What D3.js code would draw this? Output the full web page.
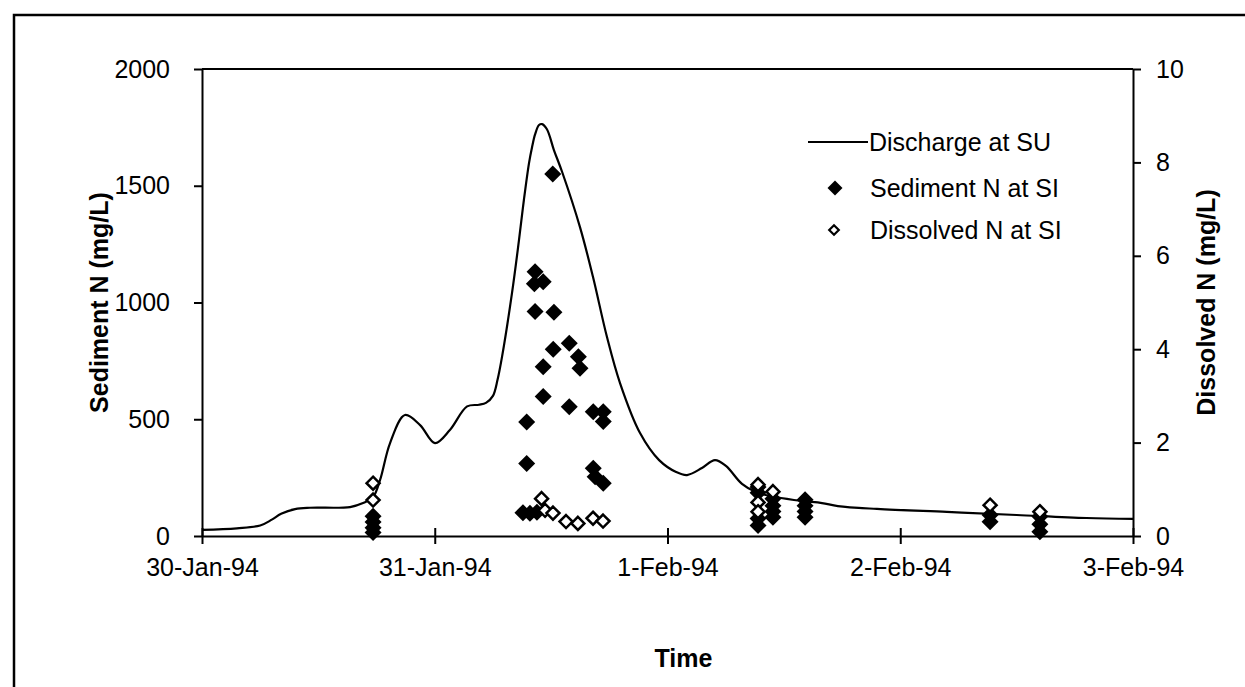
<!DOCTYPE html>
<html>
<head>
<meta charset="utf-8">
<script src="https://cdn.jsdelivr.net/npm/d3@7"></script>
<style>
  html, body { margin: 0; padding: 0; background: #fff; }
  svg { display: block; font-family: "Liberation Sans", Arial, sans-serif; }
</style>
</head>
<body>
<svg id="chart" width="1245" height="687"></svg>
<script>
// Time is given in days after 30-Jan-94 00:00.
const startDate = new Date(1994, 0, 30);
const dayTicks = [0, 1, 2, 3, 4];

// Discharge at SU (plotted against the left scale)
const dischargeDays = [0.000, 0.150, 0.250, 0.300, 0.340, 0.400, 0.464, 0.636, 0.692, 0.735,
  0.765, 0.808, 0.872, 0.937, 1.001, 1.065, 1.139, 1.190, 1.220, 1.250, 1.270, 1.289, 1.332,
  1.362, 1.383, 1.405, 1.418, 1.431, 1.448, 1.461, 1.482, 1.512, 1.547, 1.624, 1.680, 1.740,
  1.796, 1.882, 1.964, 2.037, 2.084, 2.148, 2.204, 2.251, 2.320, 2.380, 2.466, 2.578, 2.664,
  2.732, 2.900, 3.200, 3.500, 3.800, 4.000];
const dischargeValues = [26, 33, 45, 70, 95, 115, 121, 124, 141, 167,
  240, 398, 518, 475, 398, 454, 555, 562, 570, 600, 670, 767, 1041,
  1268, 1439, 1597, 1665, 1720, 1760, 1764, 1742, 1653, 1560, 1323, 1109, 852,
  655, 441, 325, 274, 261, 291, 325, 300, 223, 188, 167, 150, 141,
  128, 116, 103, 90, 77, 73];

// Sediment N at SI (mg/L, left scale)
const sedimentDays = [0.735, 0.735, 0.735, 0.735,
  1.379, 1.409, 1.439, 1.395, 1.395, 1.431, 1.428, 1.466, 1.431, 1.512, 1.507, 1.509,
  1.466, 1.466, 1.578, 1.617, 1.624, 1.578, 1.681, 1.724, 1.724, 1.681, 1.689, 1.724,
  2.389, 2.389, 2.389, 2.389, 2.453, 2.453, 2.453, 2.453, 2.591, 2.591, 2.591, 2.591,
  3.386, 3.386, 3.600, 3.600, 3.600];
const sedimentValues = [85, 60, 35, 15,
  100, 97, 102, 488, 310, 1132, 1080, 1089, 961, 958, 1550, 800,
  725, 597, 825, 768, 718, 554, 532, 532, 490, 290, 254, 226,
  210, 185, 75, 45, 160, 130, 105, 80, 155, 130, 105, 80,
  90, 61, 83, 50, 18];

// Dissolved N at SI (mg/L, right scale)
const dissolvedDays = [0.735, 0.735, 1.459, 1.474, 1.508, 1.564, 1.615, 1.680, 1.723,
  2.389, 2.389, 2.389, 2.453, 3.386, 3.600];
const dissolvedValues = [1.13, 0.77, 0.8, 0.55, 0.49, 0.31, 0.27, 0.38, 0.32,
  1.1, 0.72, 0.52, 0.95, 0.66, 0.52];

const leftTicks = [0, 500, 1000, 1500, 2000];
const rightTicks = [0, 2, 4, 6, 8, 10];

const seriesNames = ["Discharge at SU", "Sediment N at SI", "Dissolved N at SI"];

const toDate = d => new Date(startDate.getTime() + d * 864e5);

const svg = d3.select("#chart");
const plot = { left: 202, right: 1133, top: 69, bottom: 536 };
const FONT = 25;

const x = d3.scaleTime()
  .domain([toDate(0), toDate(4)])
  .range([plot.left, plot.right]);
const yL = d3.scaleLinear().domain([0, 2000]).range([plot.bottom, plot.top]);
const yR = d3.scaleLinear().domain([0, 10]).range([plot.bottom, plot.top]);

// outer chart frame
svg.append("rect")
  .attr("x", 14).attr("y", 15)
  .attr("width", 1260).attr("height", 700)
  .attr("fill", "none").attr("stroke", "#000").attr("stroke-width", 2.5);

// top edge of the plot area
svg.append("line")
  .attr("x1", plot.left).attr("x2", plot.right)
  .attr("y1", plot.top).attr("y2", plot.top)
  .attr("stroke", "#000").attr("stroke-width", 2);

function styleAxis(g, crossAttr, crossVal) {
  g.select(".domain").attr("stroke", "#000").attr("stroke-width", 2);
  g.selectAll(".tick line").attr("stroke", "#000").attr("stroke-width", 2).attr(crossAttr, crossVal);
  g.selectAll(".tick text")
    .attr("fill", "#000")
    .style("font-size", FONT + "px")
    .style("font-family", "'Liberation Sans', Arial, sans-serif");
}

// bottom axis
const gx = svg.append("g")
  .attr("transform", `translate(0,${plot.bottom})`)
  .call(d3.axisBottom(x)
    .tickValues(dayTicks.map(toDate))
    .tickFormat(d3.timeFormat("%-d-%b-%y"))
    .tickSizeInner(8).tickSizeOuter(0).tickPadding(14));
styleAxis(gx, "y1", -8);

// left axis
const gl = svg.append("g")
  .attr("transform", `translate(${plot.left},0)`)
  .call(d3.axisLeft(yL).tickValues(leftTicks).tickFormat(d3.format("d"))
    .tickSizeInner(8).tickSizeOuter(0).tickPadding(24));
styleAxis(gl, "x1", 0);

// right axis
const gr = svg.append("g")
  .attr("transform", `translate(${plot.right},0)`)
  .call(d3.axisRight(yR).tickValues(rightTicks).tickFormat(d3.format("d"))
    .tickSizeInner(8).tickSizeOuter(0).tickPadding(15));
styleAxis(gr, "x1", 0);

// axis titles
svg.append("text")
  .attr("transform", `translate(108,${(plot.top + plot.bottom) / 2}) rotate(-90)`)
  .attr("text-anchor", "middle")
  .style("font-size", FONT + "px").style("font-weight", "bold")
  .text("Sediment N (mg/L)");
svg.append("text")
  .attr("transform", `translate(1215,${(plot.top + plot.bottom) / 2}) rotate(-90)`)
  .attr("text-anchor", "middle")
  .style("font-size", FONT + "px").style("font-weight", "bold")
  .text("Dissolved N (mg/L)");
svg.append("text")
  .attr("x", (plot.left + plot.right) / 2 + 16).attr("y", 667)
  .attr("text-anchor", "middle")
  .style("font-size", FONT + "px").style("font-weight", "bold")
  .text("Time");

// discharge hydrograph
const discharge = dischargeDays.map((d, i) => ({ t: toDate(d), v: dischargeValues[i] }));
svg.append("path")
  .datum(discharge)
  .attr("fill", "none").attr("stroke", "#000").attr("stroke-width", 2.2)
  .attr("stroke-linejoin", "round")
  .attr("d", d3.line().x(d => x(d.t)).y(d => yL(d.v)).curve(d3.curveCatmullRom.alpha(0.5)));

// diamond symbols
const diamond = r => `M0,${-r}L${r},0L0,${r}L${-r},0Z`;

const sediment = sedimentDays.map((d, i) => ({ t: toDate(d), v: sedimentValues[i] }));
const dissolved = dissolvedDays.map((d, i) => ({ t: toDate(d), v: dissolvedValues[i] }));

svg.append("g").selectAll("path")
  .data(sediment).join("path")
  .attr("transform", d => `translate(${x(d.t)},${yL(d.v)})`)
  .attr("d", diamond(8.5))
  .attr("fill", "#000");

svg.append("g").selectAll("path")
  .data(dissolved).join("path")
  .attr("transform", d => `translate(${x(d.t)},${yR(d.v)})`)
  .attr("d", diamond(6.5))
  .attr("fill", "#fff").attr("stroke", "#000").attr("stroke-width", 2.5);

// legend
const lg = svg.append("g");
lg.append("line")
  .attr("x1", 808).attr("x2", 868).attr("y1", 142).attr("y2", 142)
  .attr("stroke", "#000").attr("stroke-width", 2);
lg.append("path").attr("transform", "translate(835,188)").attr("d", diamond(7.5)).attr("fill", "#000");
lg.append("path").attr("transform", "translate(834,230)").attr("d", diamond(4.8))
  .attr("fill", "#fff").attr("stroke", "#000").attr("stroke-width", 2.2);
lg.selectAll("text")
  .data(seriesNames).join("text")
  .attr("x", (d, i) => i === 0 ? 869 : 870)
  .attr("y", (d, i) => [142, 188, 230][i] + 9)
  .style("font-size", FONT + "px")
  .text(d => d);
</script>
</body>
</html>
